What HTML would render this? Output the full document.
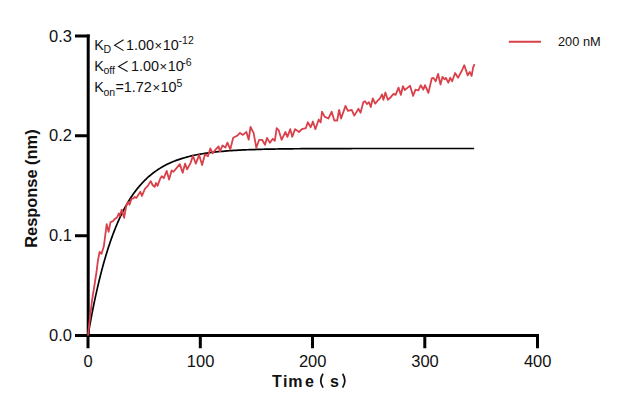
<!DOCTYPE html>
<html><head><meta charset="utf-8"><style>
html,body{margin:0;padding:0;background:#fff;}
body{width:622px;height:412px;overflow:hidden;position:relative;}
svg{position:absolute;left:0;top:0;}
text{font-family:"Liberation Sans",sans-serif;fill:#111;}
</style></head><body>
<svg width="622" height="412" viewBox="0 0 622 412">
<g fill="none" stroke="#000" stroke-width="3">
<path d="M88.2,34.5 V337"/>
<path d="M75,335.5 H539"/>
<path d="M75,36 H89.7 M75,135.8 H88 M75,235.7 H88"/>
<path d="M88,335.5 V348.3 M200.3,335.5 V348.3 M312.5,335.5 V348.3 M424.8,335.5 V348.3 M537.5,335.5 V348.3"/>
</g>
<g font-size="16.5" text-anchor="end">
<text x="72" y="41.6">0.3</text>
<text x="72" y="141.4">0.2</text>
<text x="72" y="241.3">0.1</text>
<text x="72" y="341.1">0.0</text>
</g>
<g font-size="16.5" text-anchor="middle">
<text x="88" y="367">0</text>
<text x="200.6" y="367">100</text>
<text x="312.7" y="367">200</text>
<text x="425" y="367">300</text>
<text x="537.7" y="367">400</text>
</g>
<g font-size="16" font-weight="bold">
<text x="272" y="386.5">T</text><text x="283" y="386.5">i</text><text x="288.3" y="386.5">m</text><text x="305" y="386.5">e</text>
<text x="330" y="386.5">s</text>
</g>
<g fill="none" stroke="#111" stroke-width="1.7">
<path d="M323,373.8 Q318.6,380.7 323,387.6"/>
<path d="M342.6,373.8 Q347,380.7 342.6,387.6"/>
</g>
<text font-size="16.4" font-weight="bold" transform="translate(37,247.8) rotate(-90)">Response (nm)</text>
<polyline fill="none" stroke="#000" stroke-width="1.7" stroke-linejoin="round" points="88.00,335.50 88.56,332.26 89.12,329.07 89.68,325.93 90.25,322.86 90.81,319.83 91.37,316.86 91.93,313.94 92.49,311.07 93.05,308.25 93.61,305.47 94.17,302.75 94.73,300.07 95.30,297.44 95.86,294.86 96.42,292.32 96.98,289.83 97.54,287.37 98.10,284.96 98.66,282.60 99.22,280.27 99.79,277.98 100.35,275.74 100.91,273.53 101.47,271.36 102.03,269.23 102.59,267.13 103.15,265.07 103.72,263.05 104.28,261.06 104.84,259.11 105.40,257.19 105.96,255.31 106.52,253.45 107.08,251.63 107.64,249.84 108.20,248.08 108.77,246.35 109.33,244.66 109.89,242.99 110.45,241.35 111.01,239.74 111.57,238.15 112.13,236.60 112.69,235.07 113.26,233.57 113.82,232.09 114.38,230.64 114.94,229.22 115.50,227.81 116.06,226.44 116.62,225.09 117.19,223.76 117.75,222.45 118.31,221.17 118.87,219.91 119.43,218.67 119.99,217.45 120.55,216.25 121.11,215.08 121.68,213.92 122.24,212.79 122.80,211.67 123.36,210.57 123.92,209.50 124.48,208.44 125.04,207.40 125.60,206.38 126.16,205.37 126.73,204.38 127.29,203.41 127.85,202.46 128.41,201.53 128.97,200.60 129.53,199.70 130.09,198.81 130.66,197.94 131.22,197.08 131.78,196.24 132.34,195.41 132.90,194.59 133.46,193.79 134.02,193.01 134.58,192.24 135.15,191.48 135.71,190.73 136.27,190.00 136.83,189.28 137.39,188.57 137.95,187.87 138.51,187.19 139.07,186.52 139.63,185.86 140.20,185.21 140.76,184.57 141.32,183.95 141.88,183.33 142.44,182.73 143.00,182.13 143.56,181.55 144.12,180.97 144.69,180.41 145.25,179.86 145.81,179.31 146.37,178.78 146.93,178.25 147.49,177.74 148.05,177.23 148.62,176.73 149.18,176.24 149.74,175.76 150.30,175.28 150.86,174.82 151.42,174.36 151.98,173.91 152.54,173.47 153.11,173.04 153.67,172.61 154.23,172.19 154.79,171.78 155.35,171.38 157.59,169.83 159.84,168.39 162.09,167.04 164.33,165.78 166.57,164.61 168.82,163.52 171.06,162.51 173.31,161.56 175.56,160.67 177.80,159.85 180.05,159.08 182.29,158.36 184.54,157.69 186.78,157.07 189.03,156.49 191.27,155.95 193.51,155.44 195.76,154.97 198.00,154.53 200.25,154.12 202.50,153.74 204.74,153.38 206.99,153.05 209.23,152.74 211.48,152.45 213.72,152.19 215.97,151.93 218.21,151.70 220.46,151.48 222.70,151.28 224.94,151.09 227.19,150.91 229.44,150.75 231.68,150.59 233.93,150.45 236.17,150.32 238.42,150.19 240.66,150.08 242.91,149.97 245.15,149.87 247.40,149.77 249.64,149.69 251.89,149.60 254.13,149.53 256.38,149.46 258.62,149.39 260.87,149.33 263.11,149.27 265.36,149.22 267.60,149.17 269.85,149.12 272.09,149.08 274.34,149.04 276.58,149.00 278.83,148.96 281.07,148.93 283.31,148.90 285.56,148.87 287.81,148.84 290.05,148.82 292.30,148.80 294.54,148.77 296.78,148.75 299.03,148.73 301.27,148.72 303.52,148.70 305.76,148.69 308.01,148.67 310.25,148.66 312.50,148.65 314.75,148.63 316.99,148.62 319.24,148.61 321.48,148.60 323.73,148.59 325.97,148.59 328.22,148.58 330.46,148.57 332.71,148.57 334.95,148.56 337.20,148.55 339.44,148.55 341.69,148.54 343.93,148.54 346.18,148.53 348.42,148.53 350.67,148.53 352.91,148.52 355.16,148.52 357.40,148.52 359.65,148.51 361.89,148.51 364.13,148.51 366.38,148.51 368.62,148.50 370.87,148.50 373.12,148.50 375.36,148.50 377.61,148.50 379.85,148.50 382.10,148.49 384.34,148.49 386.59,148.49 388.83,148.49 391.07,148.49 393.32,148.49 395.56,148.49 397.81,148.49 400.06,148.49 402.30,148.49 404.55,148.48 406.79,148.48 409.04,148.48 411.28,148.48 413.53,148.48 415.77,148.48 418.02,148.48 420.26,148.48 422.50,148.48 424.75,148.48 427.00,148.48 429.24,148.48 431.49,148.48 433.73,148.48 435.98,148.48 438.22,148.48 440.47,148.48 442.71,148.48 444.96,148.48 447.20,148.48 449.44,148.48 451.69,148.48 453.94,148.48 456.18,148.48 458.43,148.48 460.67,148.48 462.92,148.48 465.16,148.48 467.41,148.48 469.65,148.48 471.90,148.48 474.14,148.48"/>
<polyline fill="none" stroke="#d9404a" stroke-width="1.8" stroke-linejoin="round" points="88,335.5 89.7,320 92.1,300 94.5,285 96.5,272 98,260 99.6,251.8 101.5,253.8 103.9,246 106.7,224.1 108.6,231.9 110.5,222.2 113,221.2 114.4,219.3 115.9,218.3 117.3,216.8 118.8,213.4 119.8,215.9 121.7,209.6 124.1,217.8 126.1,206.7 128,201.8 129.5,204.7 131.4,198.9 133.3,198.4 134.8,196.9 136.3,197.9 138.2,195 140.4,191.7 141.9,196 144.9,188.8 147.8,185.9 150.7,181.1 152.6,185 154.6,186.9 156,183 157.5,185.9 160.4,178.2 161.8,176.2 163.8,178.2 166.7,170.9 169.1,179.6 171.6,170.4 173.5,171.8 175.9,168.9 179.8,164.1 182.7,172.8 185.1,163.6 187.1,169.4 190.5,163.1 192.9,155.8 195.8,163.6 199.2,154.9 202.1,165 205,154.3 208,156.2 210.3,148.4 212.8,153.3 215.7,149.4 218.6,146.5 220,151.4 222.5,145.5 225.4,147.5 227.4,142.6 230.3,149.4 233.2,137.8 237.1,135.8 240,132.9 242.9,134.9 246.4,131.9 248.7,139.7 250.5,127 253.6,132.9 256.3,147.6 259.2,139.8 262.1,139.8 265,144.7 267,137.9 269.9,142.7 272.8,138.8 274.8,140.8 276.7,128.2 278.6,130.1 281.6,139.8 285.4,132 287.4,136.9 290.3,129.1 292.2,136.9 295.1,129.1 299,132 301.9,129.1 305.8,128.2 307.8,122.3 310.7,127.2 312.9,121.5 315.4,129.2 318.7,119.5 320.7,122.4 322,111.7 324.6,116.6 328.4,118.5 331.7,111.7 334.3,120.5 337.2,120.5 339.1,109.8 341.1,118.5 345.5,105.9 347.9,110.8 351.7,109.8 354.3,115.6 358.5,108.8 360.5,112.7 363.4,102 365,101.2 366.9,104.1 368.9,102.2 370.8,107 372.8,98.3 375.2,103.6 377.6,100.7 380,98.3 382,94.4 383.4,99.8 385.4,92.5 387.8,99.8 390.2,97.8 392.2,95.4 393.6,93.9 395.6,94.9 398.5,87.6 400.9,94.9 402.9,86.2 404.8,90 407.7,87.6 410.1,85.7 413.1,95.9 415.5,89.6 418.4,90.5 420.8,85.2 423.3,89.6 425,85.1 428.4,92.9 431.8,78.3 433.3,77.8 435.7,81.2 438.1,73.9 440.5,84.6 442.5,76.8 444.4,79.3 445.9,77.8 448.3,82.7 450.2,77.8 452.2,81.2 455.1,73 458,77.8 461.9,70.5 464.3,65.2 467.7,75.4 469.7,72 471.6,75.9 473.1,67.6 474.5,64.2"/>
<g font-size="14.4">
<text x="94.2" y="50.2">K</text><text x="103.6" y="53.2" font-size="10.5">D</text>
<text x="126" y="50.2">1.00<tspan font-size="13" dx="0.6">×</tspan><tspan dx="0.6">10</tspan></text><text x="178.6" y="44.2" font-size="10.5">-12</text>
<text x="94.2" y="71.4">K</text><text x="103.4" y="74" font-size="10.5">off</text>
<text x="131" y="71.4">1.00<tspan font-size="13" dx="0.6">×</tspan><tspan dx="0.6">10</tspan></text><text x="182.2" y="65.8" font-size="10.5">-6</text>
<text x="94.2" y="92.2">K</text><text x="103.4" y="95.5" font-size="10.5">on</text>
<text x="115.4" y="92.2">=1.72<tspan font-size="13" dx="0.6">×</tspan><tspan dx="0.6">10</tspan></text><text x="176.6" y="86.8" font-size="10.5">5</text>
</g>
<g fill="none" stroke="#111" stroke-width="1.1">
<path d="M123.6,39.8 L114.6,45.2 L123.6,50.6"/>
<path d="M127.6,61.2 L118.6,66.4 L127.6,71.6"/>
</g>
<path d="M508.8,41.8 H541" stroke="#d9404a" stroke-width="1.9"/>
<text x="558" y="45.9" font-size="12.8">200 nM</text>
</svg>
</body></html>
